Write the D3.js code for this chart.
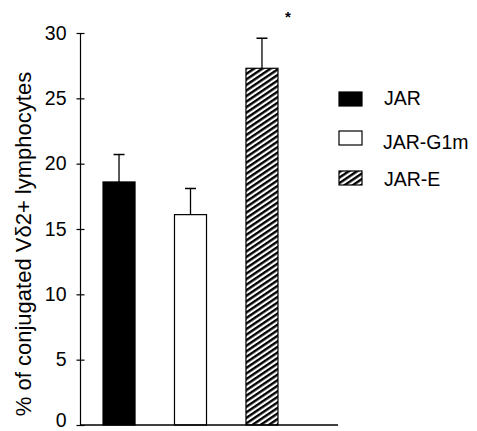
<!DOCTYPE html>
<html>
<head>
<meta charset="utf-8">
<script src="https://cdn.jsdelivr.net/npm/d3@7"></script>
<style>
body { margin: 0; background: #fff; }
text { font-family: "Liberation Sans", Arial, sans-serif; fill: #000; }
</style>
</head>
<body>
<script>
var width = 477, height = 431;

// data
var groups = ["JAR", "JAR-G1m", "JAR-E"];
var means = [18.6, 16.1, 27.3];
var errors = [2.1, 2.0, 2.3];
var fills = ["black", "white", "url(#hatch)"];
var yTicks = [0, 5, 10, 15, 20, 25, 30];

var svg = d3.select("body")
	.append("svg")
	.attr("width", width)
	.attr("height", height);

// diagonal hatch, stripes rising to the right
var pat = svg.append("defs").append("pattern")
	.attr("id", "hatch")
	.attr("patternUnits", "userSpaceOnUse")
	.attr("width", 10)
	.attr("height", 4.6)
	.attr("patternTransform", "rotate(-34)");
pat.append("rect").attr("width", 10).attr("height", 4.6).attr("fill", "white");
pat.append("rect").attr("width", 10).attr("height", 2.4).attr("fill", "black");

var y = d3.scaleLinear().domain([0, 30]).range([425, 33]);
var x = d3.scaleBand().domain(groups).range([80.5, 300.5])
	.paddingInner(0.552).paddingOuter(0.315);

// bars
svg.selectAll(".bar")
	.data(groups)
	.enter().append("rect")
	.attr("x", function (d) { return x(d); })
	.attr("y", function (d, i) { return y(means[i]); })
	.attr("width", x.bandwidth())
	.attr("height", function (d, i) { return y(0) - y(means[i]); })
	.attr("fill", function (d, i) { return fills[i]; })
	.attr("stroke", "black")
	.attr("stroke-width", 1.2);

// error bars (upper only)
groups.forEach(function (g, i) {
	var cx = x(g) + x.bandwidth() / 2;
	svg.append("line")
		.attr("x1", cx).attr("x2", cx)
		.attr("y1", y(means[i])).attr("y2", y(means[i] + errors[i]))
		.attr("stroke", "black").attr("stroke-width", 1.3);
	svg.append("line")
		.attr("x1", cx - 5.5).attr("x2", cx + 5.5)
		.attr("y1", y(means[i] + errors[i])).attr("y2", y(means[i] + errors[i]))
		.attr("stroke", "black").attr("stroke-width", 1.5);
});

// significance star
svg.append("text")
	.attr("x", 288)
	.attr("y", 22)
	.attr("text-anchor", "middle")
	.attr("font-size", 15)
	.attr("font-weight", "bold")
	.text("*");

// y axis
var yAxis = d3.axisLeft(y).tickValues(yTicks).tickSize(4).tickPadding(10);
var ax = svg.append("g")
	.attr("transform", "translate(80.5,0)")
	.call(yAxis);
ax.select(".domain").attr("stroke", "black").attr("stroke-width", 1.2)
	.attr("d", "M0," + y(30) + "V" + y(0));
ax.selectAll(".tick line").attr("x2", 4).attr("x1", -4).attr("stroke-width", 1.2);
ax.selectAll(".tick text")
	.attr("font-size", 19.5)
	.attr("font-family", "Liberation Sans, Arial, sans-serif")
	.attr("fill", "black")
	.attr("dy", function (d) { return d === 0 ? "0.1em" : "0.32em"; });

// baseline
svg.append("line")
	.attr("x1", 80.5).attr("x2", 338)
	.attr("y1", y(0)).attr("y2", y(0))
	.attr("stroke", "black").attr("stroke-width", 1.3);

// y title
svg.append("text")
	.attr("transform", "translate(31,244) rotate(-90)")
	.attr("text-anchor", "middle")
	.attr("font-size", 22)
	.text("% of conjugated Vδ2+ lymphocytes");

// legend
var legY = [92, 131, 171];
var legTextY = [105, 149, 186];
var legTextX = [384, 383, 384];
groups.forEach(function (g, i) {
	svg.append("rect")
		.attr("x", 339).attr("y", legY[i])
		.attr("width", 23).attr("height", 14)
		.attr("fill", fills[i])
		.attr("stroke", "black").attr("stroke-width", 1.2);
	svg.append("text")
		.attr("x", legTextX[i]).attr("y", legTextY[i])
		.attr("font-size", 19.5)
		.text(g);
});
</script>
</body>
</html>
